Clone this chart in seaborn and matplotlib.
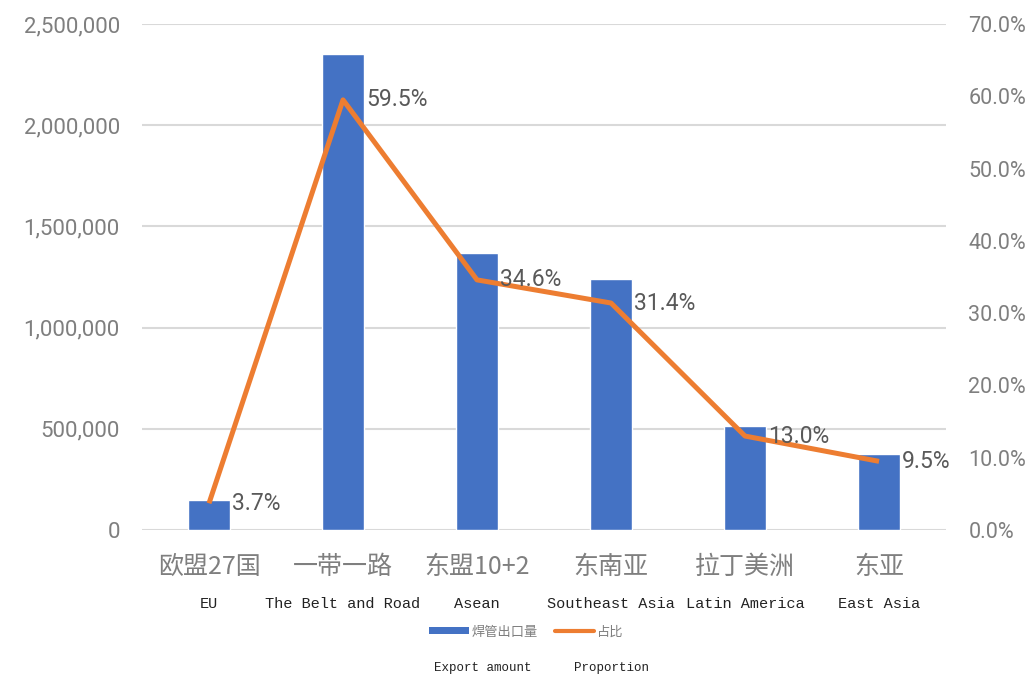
import matplotlib
matplotlib.use("Agg")
import matplotlib.pyplot as plt
from matplotlib.ticker import FuncFormatter, FixedLocator
from matplotlib.patches import Patch
from matplotlib.lines import Line2D
import seaborn as sns

# Welded pipe exports by destination region
categories = ["欧盟27国", "一带一路", "东盟10+2", "东南亚", "拉丁美洲", "东亚"]
categories_en = ["EU", "The Belt and Road", "Asean", "Southeast Asia", "Latin America", "East Asia"]
export_amount = [146000, 2352000, 1368000, 1241000, 514000, 375000]
share_pct = [3.7, 59.5, 34.6, 31.4, 13.0, 9.5]
left_ticks = [0, 500000, 1000000, 1500000, 2000000, 2500000]
right_ticks = [0, 10, 20, 30, 40, 50, 60, 70]
legend_cn = ["焊管出口量", "占比"]
legend_en = ["Export amount", "Proportion"]

BLUE = "#4472C4"
ORANGE = "#ED7D31"
GRID = "#D9D9D9"
TICK_GRAY = "#7F7F7F"
LABEL_GRAY = "#595959"

sns.set_theme(style="white")
plt.rcParams["font.family"] = ["Roboto", "Noto Sans CJK SC", "DejaVu Sans"]
NUM_FONT = ["Roboto", "DejaVu Sans"]
CJK_FONT = ["Noto Sans CJK SC", "DejaVu Sans"]
MONO_FONT = ["Liberation Mono", "DejaVu Sans Mono"]

fig = plt.figure(figsize=(10.32, 6.81), dpi=100)
ax = fig.add_axes([0.1376, 0.2217, 0.7791, 0.7431])

sns.barplot(x=categories, y=export_amount, color=BLUE, saturation=1,
            width=0.31, ax=ax, zorder=2)

ax.set_ylim(0, 2500000)
ax.yaxis.set_major_locator(FixedLocator(left_ticks))
ax.yaxis.set_major_formatter(FuncFormatter(lambda v, p: f"{v:,.0f}"))
ax.grid(axis="y", color=GRID, linewidth=1.5, zorder=0)
ax.set_axisbelow(True)
for s in ax.spines.values():
    s.set_visible(False)
ax.tick_params(axis="y", length=0, pad=16, labelsize=16, labelcolor=TICK_GRAY)
ax.tick_params(axis="x", length=0, pad=17)
ax.set_xticks(range(len(categories)))
ax.set_xticklabels(categories, fontsize=18, color=TICK_GRAY, family=CJK_FONT)
for lab in ax.get_yticklabels():
    lab.set_family(NUM_FONT)
ax.set_xlabel("")
ax.set_ylabel("")

# English names under the category labels
xt = ax.get_xaxis_transform()
for i, name in enumerate(categories_en):
    ax.text(i, -0.147, name, transform=xt, ha="center", va="center",
            fontsize=11, color="#222222", family=MONO_FONT)

# Share line on the secondary axis
ax2 = ax.twinx()
sns.pointplot(x=categories, y=share_pct, color=ORANGE, markers="", errorbar=None,
              linewidth=3.6, ax=ax2)
for ln in ax2.lines:
    ln.set_solid_joinstyle("round")
    ln.set_solid_capstyle("butt")
ax2.set_ylim(0, 70)
ax2.yaxis.set_major_locator(FixedLocator(right_ticks))
ax2.yaxis.set_major_formatter(FuncFormatter(lambda v, p: f"{v:.1f}%"))
ax2.grid(False)
for s in ax2.spines.values():
    s.set_visible(False)
ax2.tick_params(axis="y", length=0, pad=16, labelsize=15.5, labelcolor=TICK_GRAY)
for lab in ax2.get_yticklabels():
    lab.set_family(NUM_FONT)
ax2.set_ylabel("")
ax2.set_xlim(-0.5, len(categories) - 0.5)
ax.set_xlim(-0.5, len(categories) - 0.5)

for i, v in enumerate(share_pct):
    ax2.annotate(f"{v:.1f}%", xy=(i, v), xytext=(23, 0), textcoords="offset pixels",
                 ha="left", va="center", fontsize=16.5, color=LABEL_GRAY, family=NUM_FONT)

# Legend
handles = [Patch(facecolor=BLUE, edgecolor="none"),
           Line2D([0], [0], color=ORANGE, linewidth=3)]
leg = fig.legend(handles, legend_cn, loc="center", bbox_to_anchor=(0.51, 0.072),
                 ncol=2, frameon=False, handlelength=3.0, handleheight=0.45,
                 handletextpad=0.2, columnspacing=1.3,
                 prop={"family": CJK_FONT, "size": 9.5})
for t in leg.get_texts():
    t.set_color(TICK_GRAY)

fig.text(0.468, 0.019, legend_en[0], ha="center", va="center", fontsize=9,
         color="#222222", family=MONO_FONT)
fig.text(0.593, 0.019, legend_en[1], ha="center", va="center", fontsize=9,
         color="#222222", family=MONO_FONT)

fig.savefig("out.png", dpi=100, facecolor="white")
